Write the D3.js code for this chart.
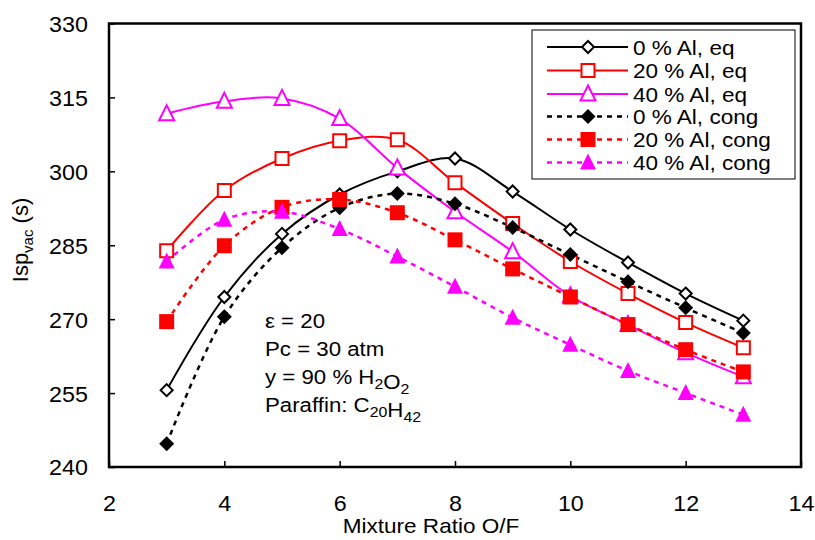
<!DOCTYPE html>
<html><head><meta charset="utf-8">
<script src="https://cdn.jsdelivr.net/npm/d3@7"></script>
<style>body{margin:0;background:#fff}svg{display:block;font-family:"Liberation Sans",Arial,sans-serif}</style>
</head><body><svg id="c" width="815" height="540"></svg>
<script>
const ratios = [3,4,5,6,7,8,9,10,11,12,13];
const al0eq   = [255.6,274.5,287.3,295.3,300.0,302.6,295.9,288.2,281.5,275.2,269.7];
const al20eq  = [283.9,296.1,302.6,306.2,306.4,297.7,289.4,281.7,275.2,269.3,264.2];
const al40eq  = [311.7,314.2,314.8,310.7,300.7,291.8,283.7,274.7,268.9,263.2,258.3];
const al0cong = [244.7,270.5,284.5,292.6,295.5,293.4,288.6,283.1,277.6,272.3,267.2];
const al20cong= [269.5,284.9,292.7,294.3,291.6,286.1,280.2,274.5,268.9,263.8,259.3];
const al40cong= [281.7,290.2,291.8,288.3,282.7,276.6,270.3,264.8,259.5,255.0,250.6];
const seriesNames = ["0 % Al, eq","20 % Al, eq","40 % Al, eq","0 % Al, cong","20 % Al, cong","40 % Al, cong"];
const xTicks = [2,4,6,8,10,12,14];
const yTicks = [240,255,270,285,300,315,330];

const series = [
  {name:seriesNames[0], values:al0eq,   color:"#000", dash:null, shape:"diamond",  fill:false},
  {name:seriesNames[1], values:al20eq,  color:"#ff0000", dash:null, shape:"square", fill:false},
  {name:seriesNames[2], values:al40eq,  color:"#ff00ff", dash:null, shape:"triangle", fill:false},
  {name:seriesNames[3], values:al0cong, color:"#000", dash:"5,5", shape:"diamond",  fill:true},
  {name:seriesNames[4], values:al20cong,color:"#ff0000", dash:"5,5", shape:"square", fill:true},
  {name:seriesNames[5], values:al40cong,color:"#ff00ff", dash:"5,5", shape:"triangle", fill:true}
];

const SX = 1.06;
const svg = d3.select("#c");
const L=109, R=801, T=23.5, B=467;
const x = d3.scaleLinear().domain([2,14]).range([L,R]);
const y = d3.scaleLinear().domain([240,330]).range([B,T]);

function markerPath(shape, fill){
  let s;
  if(shape==="diamond"){ s = fill?7.5:6; return `M0,${-s}L${s},0L0,${s}L${-s},0Z`; }
  if(shape==="square"){ s = fill?7.5:6.5; return `M${-s},${-s}H${s}V${s}H${-s}Z`; }
  s = fill?8:7.5; const h=s*1.0;
  return `M0,${-h-1}L${s},${h-1}L${-s},${h-1}Z`;
}

// axes
const gx = svg.append("g").attr("transform",`translate(0,${B})`)
  .call(d3.axisBottom(x).tickValues(xTicks).tickSizeInner(-6).tickSizeOuter(0).tickFormat(d3.format("d")));
const gy = svg.append("g").attr("transform",`translate(${L},0)`)
  .call(d3.axisLeft(y).tickValues(yTicks).tickSizeInner(-6).tickSizeOuter(0).tickFormat(d3.format("d")));
[gx,gy].forEach(g=>{
  g.select(".domain").remove();
  g.selectAll("line").attr("stroke","#000").attr("stroke-width",1.5);
  g.selectAll("text").attr("fill","#000").style("font-size","22px");
});
gx.selectAll("text").attr("y",44).attr("dy",0).attr("transform",`scale(${SX},1)`);
gy.selectAll("text").attr("x",-21/SX).attr("dy","0.36em").attr("transform",`scale(${SX},1)`);

// plot frame
svg.append("rect").attr("x",L).attr("y",T).attr("width",R-L).attr("height",B-T)
  .attr("fill","none").attr("stroke","#000").attr("stroke-width",2.5);

// lines
const line = d3.line().x((d,i)=>x(ratios[i])).y(d=>y(d)).curve(d3.curveCatmullRom.alpha(0.5));
series.forEach(s=>{
  svg.append("path").attr("d",line(s.values)).attr("fill","none").attr("stroke",s.color)
    .attr("stroke-width",s.dash?2.5:2).attr("stroke-dasharray",s.dash);
});
series.forEach(s=>{
  svg.append("g").selectAll("path").data(s.values).join("path")
    .attr("transform",(d,i)=>`translate(${x(ratios[i])},${y(d)})`)
    .attr("d",markerPath(s.shape,s.fill))
    .attr("fill",s.fill?s.color:"#fff").attr("stroke",s.color).attr("stroke-width",s.fill?0:2);
});

// legend
const lg = svg.append("g");
lg.append("rect").attr("x",532).attr("y",30).attr("width",263).attr("height",149)
  .attr("fill","#fff").attr("stroke","#000").attr("stroke-width",1);
const rowY = [47,70.5,94,116.5,139.5,162.5];
series.forEach((s,i)=>{
  const yy=rowY[i];
  lg.append("line").attr("x1",547).attr("x2",628).attr("y1",yy).attr("y2",yy)
    .attr("stroke",s.color).attr("stroke-width",s.dash?2.5:2).attr("stroke-dasharray",s.dash);
  lg.append("path").attr("transform",`translate(588,${yy})`).attr("d",markerPath(s.shape,s.fill))
    .attr("fill",s.fill?s.color:"#fff").attr("stroke",s.color).attr("stroke-width",s.fill?0:2);
  lg.append("text").attr("transform",`translate(633,${yy+7.5}) scale(1.1,1)`)
    .style("font-size","20.5px").text(s.name);
});

// annotation
const ann = svg.append("g").style("font-size","21px");
function annLine(yb, parts){
  const t = ann.append("text").attr("transform",`translate(265,${yb}) scale(${SX},1)`);
  parts.forEach(p=>{
    if(typeof p==="string") t.append("tspan").text(p);
    else t.append("tspan").attr("dy",p.dy).style("font-size","15px").text(p.sub);
  });
  return t;
}
annLine(328,["ε = 20"]);
annLine(356,["Pc = 30 atm"]);
annLine(384,["y = 90 % H",{sub:"2",dy:5},{sub:"",dy:-5},"O",{sub:"2",dy:5}]);
annLine(412,["Paraffin: C",{sub:"20",dy:5},{sub:"",dy:-5},"H",{sub:"42",dy:5}]);

// axis titles
svg.append("text").attr("transform",`translate(431,533) scale(1.1,1)`).attr("text-anchor","middle")
  .style("font-size","20.5px").text("Mixture Ratio O/F");
const yl = svg.append("text").attr("transform",`translate(28,240) rotate(-90)`).attr("text-anchor","middle")
  .style("font-size","22px");
yl.append("tspan").text("Isp");
yl.append("tspan").attr("dy",5).style("font-size","15px").text("vac");
yl.append("tspan").attr("dy",-5).text(" (s)");
</script></body></html>
